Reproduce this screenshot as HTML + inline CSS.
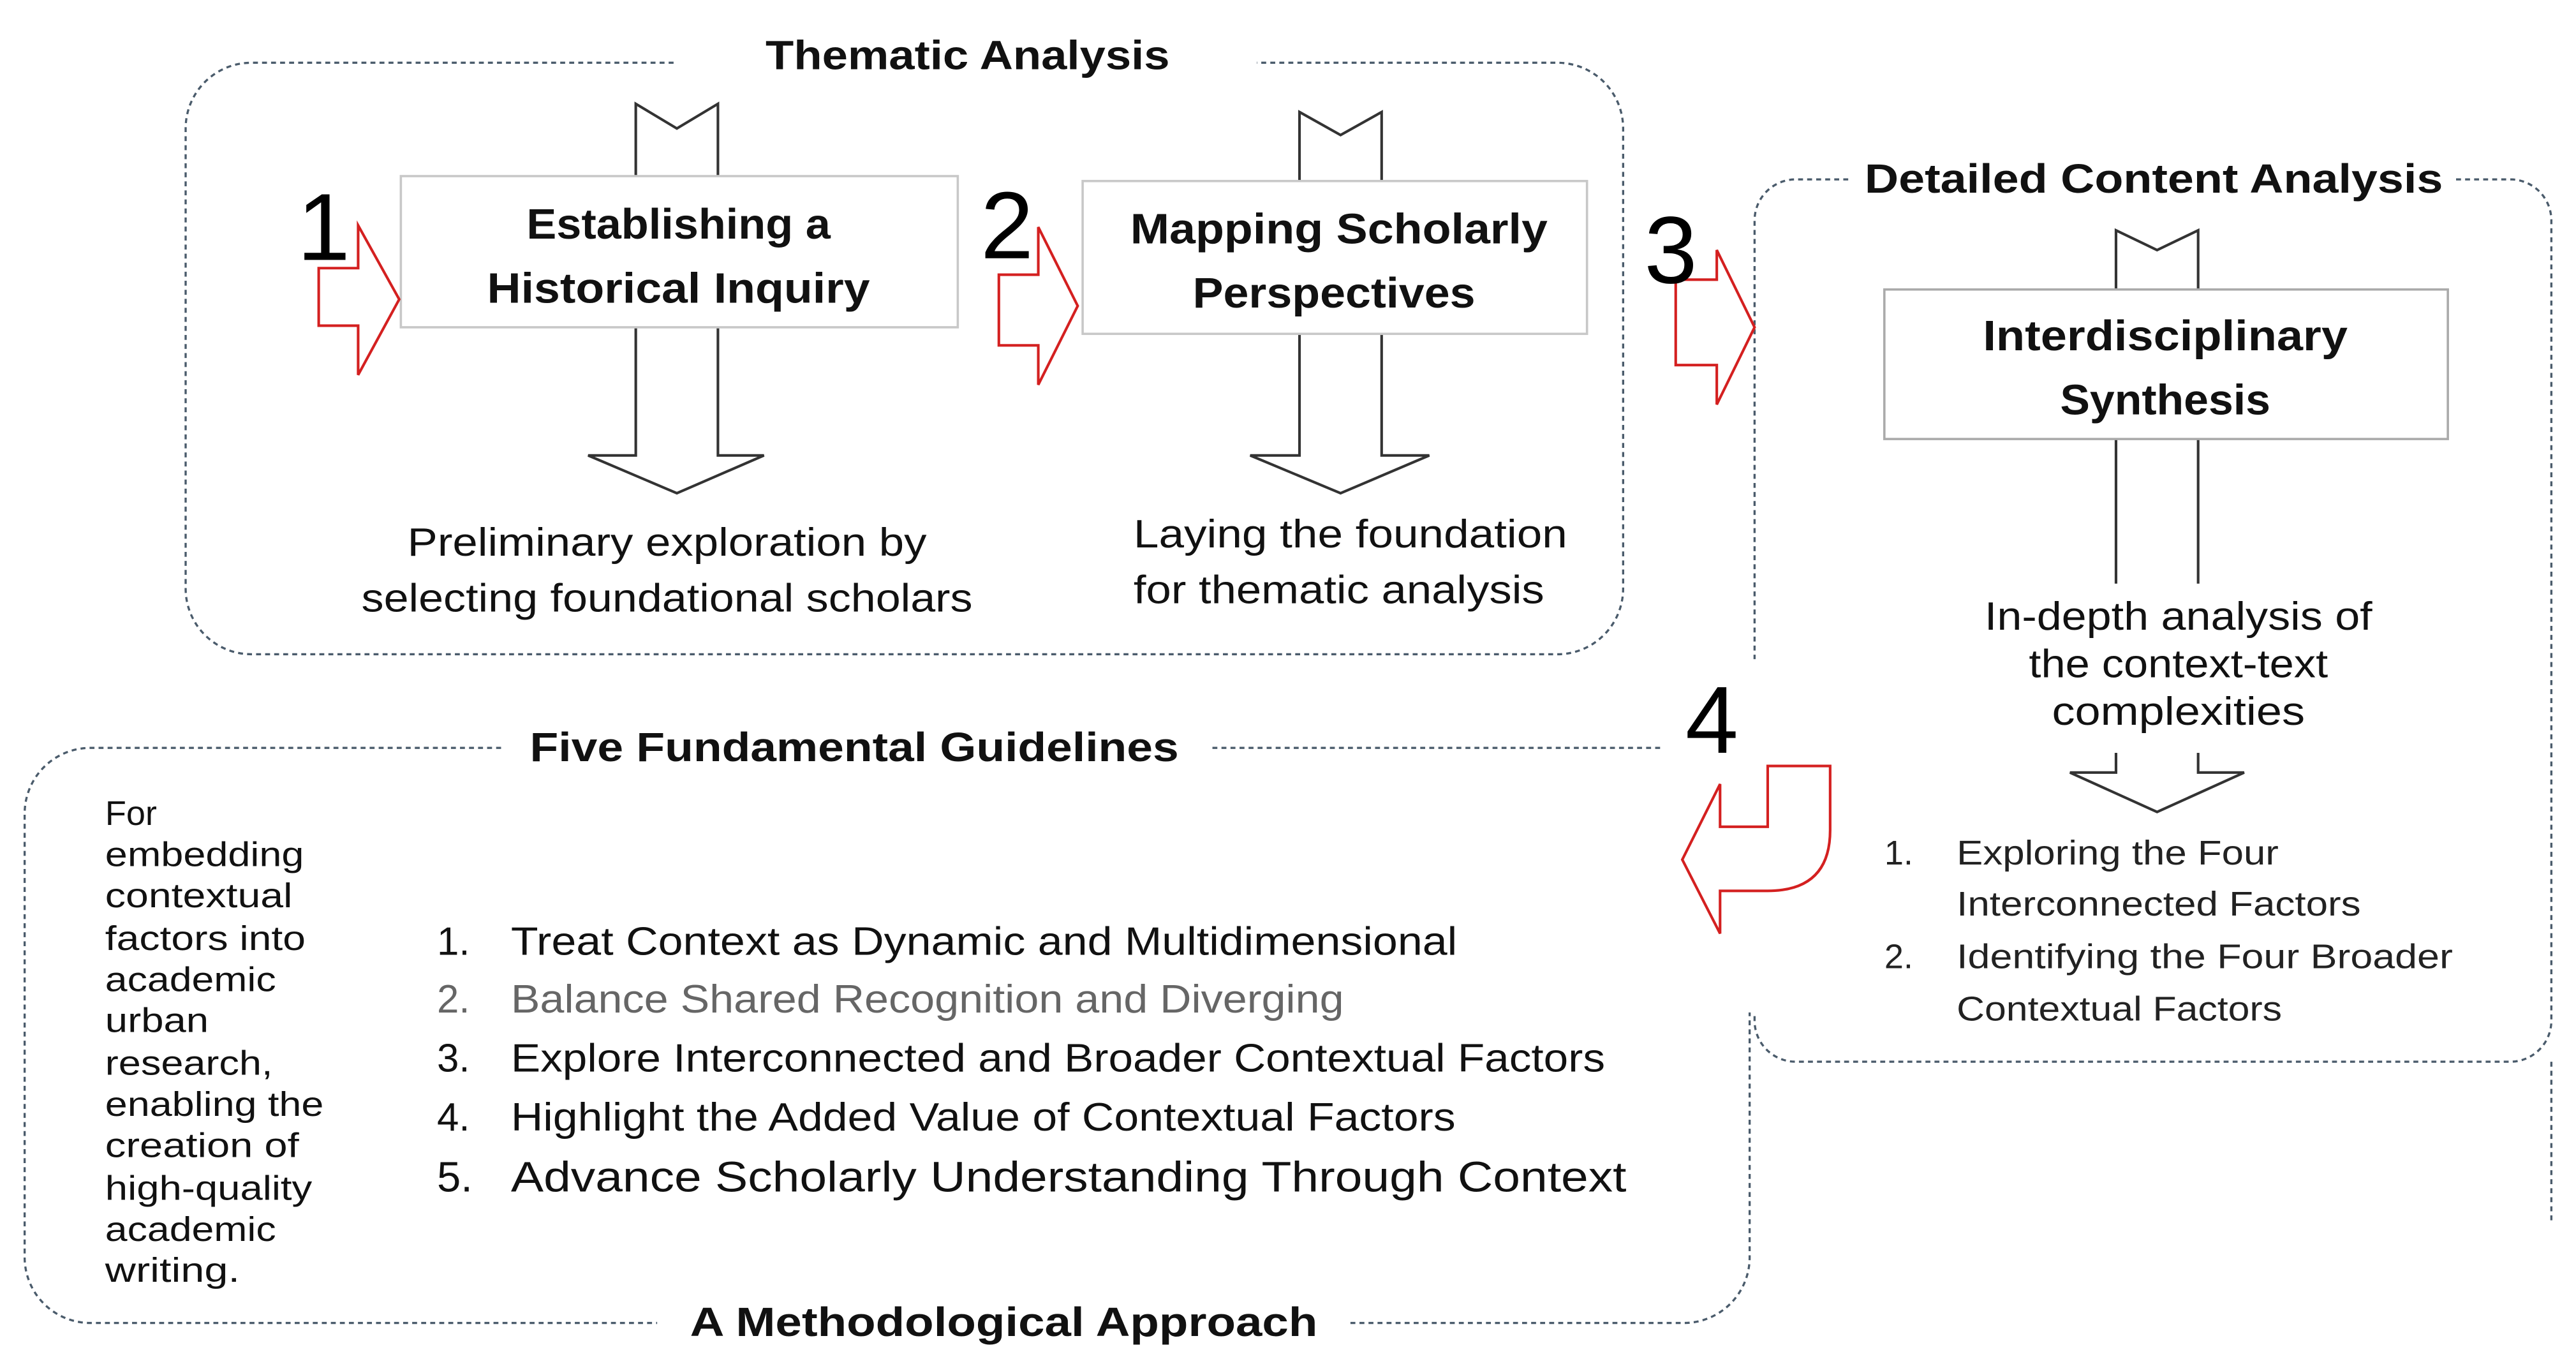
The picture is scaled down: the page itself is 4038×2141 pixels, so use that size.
<!DOCTYPE html>
<html><head><meta charset="utf-8"><style>
html,body{margin:0;padding:0;background:#fff;}
svg{display:block;}
text{font-family:"Liberation Sans",sans-serif;}
.b{font-weight:bold;}
</style></head><body>
<svg width="4038" height="2141" viewBox="0 0 1568 831" xmlns="http://www.w3.org/2000/svg">
<g fill="none" stroke="#4a5b6b" stroke-width="1.3" stroke-dasharray="3 2.5">
<path d="M410,38 H153 A40,40 0 0 0 113,78 V358 A40,40 0 0 0 153,398 H948 A40,40 0 0 0 988,358 V78 A40,40 0 0 0 948,38 H765"/>
<path d="M1125,109 H1093 A25,25 0 0 0 1068,134 V401"/>
<path d="M1495,109 H1528 A25,25 0 0 1 1553,134 V621 A25,25 0 0 1 1528,646 H1093 A25,25 0 0 1 1068,621 V616"/>
<path d="M1553,646 V745"/>
<path d="M305,455 H55 A40,40 0 0 0 15,495 V765 A40,40 0 0 0 55,805 H400"/>
<path d="M822,805 H1025 A40,40 0 0 0 1065,765 V616"/>
<path d="M738,455 H1012"/>
</g>
<g fill="#111">
<text class="b" x="589" y="42" font-size="25" text-anchor="middle" textLength="246" lengthAdjust="spacingAndGlyphs">Thematic Analysis</text>
<text class="b" x="1311" y="117" font-size="25" text-anchor="middle" textLength="352" lengthAdjust="spacingAndGlyphs">Detailed Content Analysis</text>
<text class="b" x="520" y="463" font-size="25" text-anchor="middle" textLength="395" lengthAdjust="spacingAndGlyphs">Five Fundamental Guidelines</text>
<text class="b" x="611" y="813" font-size="25" text-anchor="middle" textLength="382" lengthAdjust="spacingAndGlyphs">A Methodological Approach</text>
</g>
<g fill="#fff" stroke="#333" stroke-width="1.6">
<path d="M387,63 L412,78 L437,63 V277 H465 L412,300 L358,277 H387 Z"/>
<path d="M791,68 L816,82 L841,68 V277 H870 L816,300 L761,277 H791 Z"/>
<path d="M1288,355 V140 L1313,152 L1338,140 V355"/>
<path d="M1288,458 V470 H1260 L1313,494 L1366,470 H1338 V458" />
</g>
<g fill="#fff" stroke="#c8c8c8" stroke-width="1.4">
<rect x="244" y="107" width="339" height="92"/>
<rect x="659" y="110" width="307" height="93"/>
<rect x="1147" y="176" width="343" height="91" stroke="#aaa"/>
</g>
<g fill="#111">
<text class="b" font-size="26" text-anchor="middle"><tspan x="413" y="145" textLength="185" lengthAdjust="spacingAndGlyphs">Establishing a</tspan><tspan x="413" y="184" textLength="233" lengthAdjust="spacingAndGlyphs">Historical Inquiry</tspan></text>
<text class="b" font-size="26" text-anchor="middle"><tspan x="815" y="148" textLength="254" lengthAdjust="spacingAndGlyphs">Mapping Scholarly</tspan><tspan x="812" y="187" textLength="172" lengthAdjust="spacingAndGlyphs">Perspectives</tspan></text>
<text class="b" font-size="26" text-anchor="middle"><tspan x="1318" y="213" textLength="222" lengthAdjust="spacingAndGlyphs">Interdisciplinary</tspan><tspan x="1318" y="252" textLength="128" lengthAdjust="spacingAndGlyphs">Synthesis</tspan></text>
</g>
<g fill="#fff" stroke="#d42020" stroke-width="1.6">
<path d="M194,163 H218 V137 L243,182 L218,228 V198 H194 Z"/>
<path d="M608,167 H632 V138 L656,186 L632,234 V210 H608 Z"/>
<path d="M1020,170 H1045 V152 L1068,199 L1045,246 V222 H1020 Z"/>
<path d="M1076,466 H1114 V505 Q1114,542 1076,542 H1047 V568 L1024,523 L1047,477 V503 H1076 Z"/>
</g>
<g font-size="58" text-anchor="middle" fill="#000">
<text x="197" y="158">1</text>
<text x="613" y="157">2</text>
<text x="1017" y="172">3</text>
<text x="1042" y="458">4</text>
</g>
<g font-size="24" fill="#111">
<text x="406" y="338" text-anchor="middle" textLength="316" lengthAdjust="spacingAndGlyphs">Preliminary exploration by</text>
<text x="406" y="372" text-anchor="middle" textLength="372" lengthAdjust="spacingAndGlyphs">selecting foundational scholars</text>
<text x="690" y="333" textLength="264" lengthAdjust="spacingAndGlyphs">Laying the foundation</text>
<text x="690" y="367" textLength="250" lengthAdjust="spacingAndGlyphs">for thematic analysis</text>
<text x="1326" y="383" text-anchor="middle" textLength="236" lengthAdjust="spacingAndGlyphs">In-depth analysis of</text>
<text x="1326" y="412" text-anchor="middle" textLength="182" lengthAdjust="spacingAndGlyphs">the context-text</text>
<text x="1326" y="441" text-anchor="middle" textLength="154" lengthAdjust="spacingAndGlyphs">complexities</text>
</g>
<g font-size="21" fill="#222">
<text x="1147" y="526">1.</text><text x="1191" y="526" textLength="196" lengthAdjust="spacingAndGlyphs">Exploring the Four</text>
<text x="1191" y="557" textLength="246" lengthAdjust="spacingAndGlyphs">Interconnected Factors</text>
<text x="1147" y="589">2.</text><text x="1191" y="589" textLength="302" lengthAdjust="spacingAndGlyphs">Identifying the Four Broader</text>
<text x="1191" y="621" textLength="198" lengthAdjust="spacingAndGlyphs">Contextual Factors</text>
</g>
<g font-size="21" fill="#111">
<text x="64" y="502">For</text>
<text x="64" y="527" textLength="121" lengthAdjust="spacingAndGlyphs">embedding</text>
<text x="64" y="552" textLength="114" lengthAdjust="spacingAndGlyphs">contextual</text>
<text x="64" y="578" textLength="122" lengthAdjust="spacingAndGlyphs">factors into</text>
<text x="64" y="603" textLength="104" lengthAdjust="spacingAndGlyphs">academic</text>
<text x="64" y="628" textLength="63" lengthAdjust="spacingAndGlyphs">urban</text>
<text x="64" y="654" textLength="102" lengthAdjust="spacingAndGlyphs">research,</text>
<text x="64" y="679" textLength="133" lengthAdjust="spacingAndGlyphs">enabling the</text>
<text x="64" y="704" textLength="118" lengthAdjust="spacingAndGlyphs">creation of</text>
<text x="64" y="730" textLength="126" lengthAdjust="spacingAndGlyphs">high-quality</text>
<text x="64" y="755" textLength="104" lengthAdjust="spacingAndGlyphs">academic</text>
<text x="64" y="780" textLength="82" lengthAdjust="spacingAndGlyphs">writing.</text>
</g>
<g font-size="24" fill="#111">
<text x="266" y="581">1.</text><text x="311" y="581" textLength="576" lengthAdjust="spacingAndGlyphs">Treat Context as Dynamic and Multidimensional</text>
<text x="266" y="616" style="fill:#666">2.</text><text x="311" y="616" style="fill:#666" textLength="507" lengthAdjust="spacingAndGlyphs">Balance Shared Recognition and Diverging</text>
<text x="266" y="652">3.</text><text x="311" y="652" textLength="666" lengthAdjust="spacingAndGlyphs">Explore Interconnected and Broader Contextual Factors</text>
<text x="266" y="688">4.</text><text x="311" y="688" textLength="575" lengthAdjust="spacingAndGlyphs">Highlight the Added Value of Contextual Factors</text>
<text x="266" y="725" font-size="26">5.</text><text x="311" y="725" font-size="26" textLength="679" lengthAdjust="spacingAndGlyphs">Advance Scholarly Understanding Through Context</text>
</g>
</svg>
</body></html>
